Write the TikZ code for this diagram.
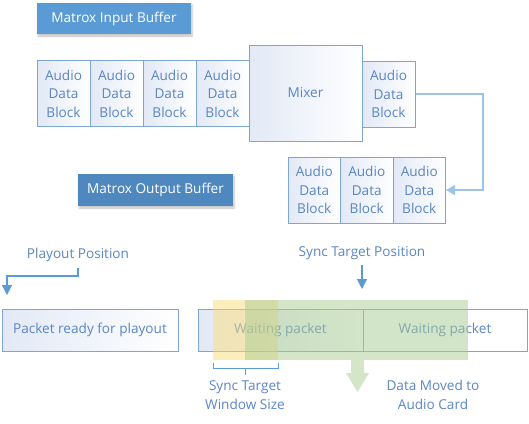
\documentclass[tikz,border=0pt]{standalone}
\usepackage{fontspec}
\setmainfont{Open Sans}
\usetikzlibrary{arrows.meta,shadows.blur}
\definecolor{txt}{HTML}{5A86C4}
\definecolor{brd}{HTML}{7EA6D2}
\definecolor{btn}{HTML}{5B9BD5}
\definecolor{btnd}{HTML}{4F88BE}
\definecolor{lnk}{HTML}{9DC3E6}
\definecolor{lnkd}{HTML}{5B9BD5}
\definecolor{ylw}{HTML}{F9DC7A}
\definecolor{grn}{HTML}{A9CC92}
\definecolor{shd}{HTML}{E2E9F6}
\tikzset{
  box/.style={draw=brd, line width=1pt, left color=shd, right color=white, text=txt, inner sep=0pt, font=\fontsize{13.6}{18.5}\selectfont, align=center},
  blk/.style={box, minimum width=53pt, minimum height=66pt},
  button/.style={fill=btn, text=white, inner sep=0pt, font=\fontsize{13.6}{17}\selectfont, blur shadow={shadow blur steps=5, shadow xshift=1pt, shadow yshift=-2pt, shadow opacity=25}},
  lbl/.style={text=txt, inner sep=0pt, font=\fontsize{13.6}{19}\selectfont, align=center},
  conn/.style={draw=lnk, line width=1.4pt, -{Triangle[width=10pt,length=9pt]}},
  connd/.style={draw=lnkd, line width=1.1pt, -{Triangle[width=10pt,length=10pt]}},
}
\begin{document}
\begin{tikzpicture}[x=1pt,y=-1pt]
\useasboundingbox (0,0) rectangle (529,423);
% top buffer
\node[button, minimum width=154pt, minimum height=31pt] (inbuf) at (114,18.5) {Matrox Input Buffer};
\node[blk] (b1) at (63.5,93.5) {Audio\\Data\\Block};
\node[blk] (b2) at (116.5,93.5) {Audio\\Data\\Block};
\node[blk] (b3) at (169.5,93.5) {Audio\\Data\\Block};
\node[blk] (b4) at (222.5,93.5) {Audio\\Data\\Block};
\node[box, minimum width=113pt, minimum height=96pt] (mixer) at (305.5,93) {Mixer};
\node[blk] (b5) at (388.5,94) {Audio\\Data\\Block};
\node[blk, minimum width=52.5pt] (c1) at (314.25,190) {Audio\\Data\\Block};
\node[blk, minimum width=52.5pt] (c2) at (366.75,190) {Audio\\Data\\Block};
\node[blk, minimum width=52.5pt] (c3) at (419.25,190) {Audio\\Data\\Block};
\draw[conn] (b5.east) -| (483,190) -- (c3.east);
\node[button, fill=btnd, minimum width=155pt, minimum height=32pt] (outbuf) at (155.5,190) {Matrox Output Buffer};
% bottom
\node[lbl] (pp) at (78,255) {Playout Position};
\coordinate (ppend) at (7,295);
\draw[connd] ([yshift=-6pt]pp.south) -- ++(0,8) -| (ppend);
\node[box, minimum width=176pt, minimum height=42pt] (pkt) at (90,330) {Packet ready for playout};
\node[box, minimum width=165pt, minimum height=42pt] (wp1) at (280.5,330) {Waiting packet};
\node[box, left color=white, minimum width=164pt, minimum height=42pt] (wp2) at (445,330) {Waiting packet};
\fill[ylw, fill opacity=0.5] (213,300) rectangle (278,360);
\fill[grn, fill opacity=0.5] (245,300) rectangle (468,360);
\node[lbl] (stp) at (362,253) {Sync Target Position};
\coordinate (stpend) at (362,289);
\draw[connd] ([yshift=-5pt]stp.south) -- (stpend);
\draw[draw=lnkd, line width=1pt] (213,363) -- (213,368) -- (278,368) -- (278,363);
\draw[draw=lnkd, line width=1pt] (245.5,368) -- (245.5,375);
\node[lbl] (stw) at (245,395) {Sync Target\\Window Size};
\fill[grn, fill opacity=0.5] (351,360) -- (364,360) -- (364,373) -- (369,373) -- (357.5,392) -- (346,373) -- (351,373) -- cycle;
\node[lbl] (dm) at (433,395) {Data Moved to\\Audio Card};
\end{tikzpicture}
\end{document}
